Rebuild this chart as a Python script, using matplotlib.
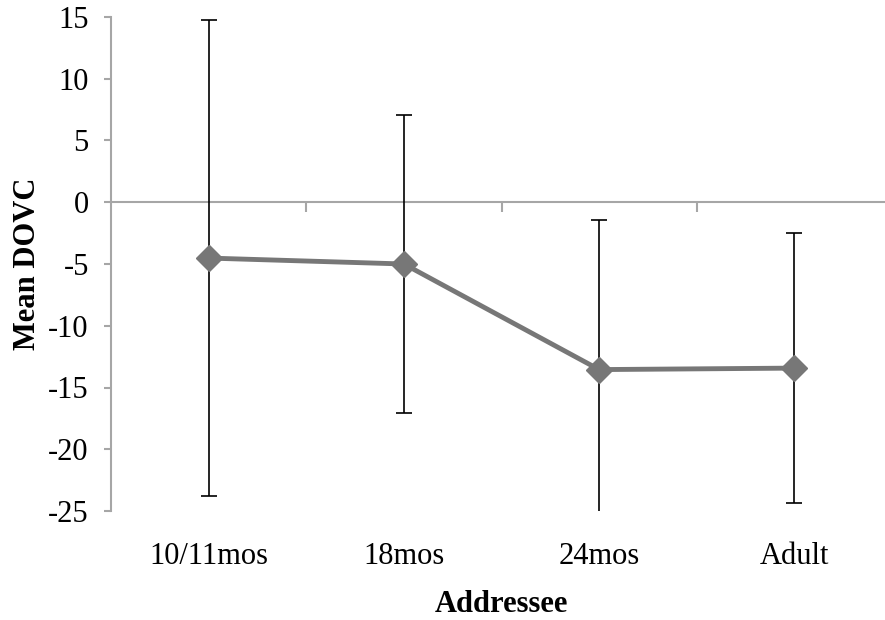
import matplotlib
matplotlib.use("Agg")
import matplotlib.pyplot as plt
import numpy as np

categories = ["10/11mos", "18mos", "24mos", "Adult"]
mean_dovc = [-4.52, -5.0, -13.55, -13.43]
err_dovc = [19.25, 12.07, 12.12, 10.93]
y_ticks = [-25, -20, -15, -10, -5, 0, 5, 10, 15]

plt.rcParams["font.family"] = ["Liberation Serif", "DejaVu Serif"]
axis_grey = "#a6a6a6"

fig = plt.figure(figsize=(8.85, 6.2), dpi=100)
ax = fig.add_axes([0.1254, 0.1758, 0.8826, 0.7968])

x = np.arange(len(categories))
ax.errorbar(x, mean_dovc, yerr=err_dovc, fmt="none", ecolor="black",
            elinewidth=1.2, capsize=5.8, capthick=1.2, zorder=3)
ax.plot(x, mean_dovc, color="#777777", lw=3.5, marker="D", markersize=13,
        markerfacecolor="#777777", markeredgecolor="#777777", zorder=4)

ax.set_xlim(-0.5, len(categories) - 0.5)
ax.set_ylim(-25, 15)
ax.set_yticks(y_ticks)
ax.set_yticklabels([str(v) for v in y_ticks])

for side in ("top", "right"):
    ax.spines[side].set_visible(False)
ax.spines["left"].set_color(axis_grey)
ax.spines["left"].set_linewidth(1.5)
ax.spines["bottom"].set_position(("data", 0))
ax.spines["bottom"].set_color(axis_grey)
ax.spines["bottom"].set_linewidth(1.5)

# category boundary ticks on the zero line
ax.set_xticks(x[:-1] + 0.5)
ax.set_xticklabels([])
ax.tick_params(axis="x", direction="out", length=7, width=1.5, color=axis_grey)
ax.tick_params(axis="y", direction="out", length=5, width=1.5, color=axis_grey,
               labelsize=22, pad=11)

# category labels along the bottom of the plot area
sec = ax.secondary_xaxis(0.0)
sec.set_xticks(x)
sec.set_xticklabels(categories)
sec.spines["bottom"].set_visible(False)
sec.tick_params(length=0, labelsize=22, pad=22)
sec.set_xlabel("Addressee", fontsize=22, fontweight="bold", labelpad=14)

ax.set_ylabel("Mean DOVC", fontsize=22, fontweight="bold")
ax.yaxis.set_label_coords(-0.088, 0.5)

fig.savefig("out.png", dpi=100)
